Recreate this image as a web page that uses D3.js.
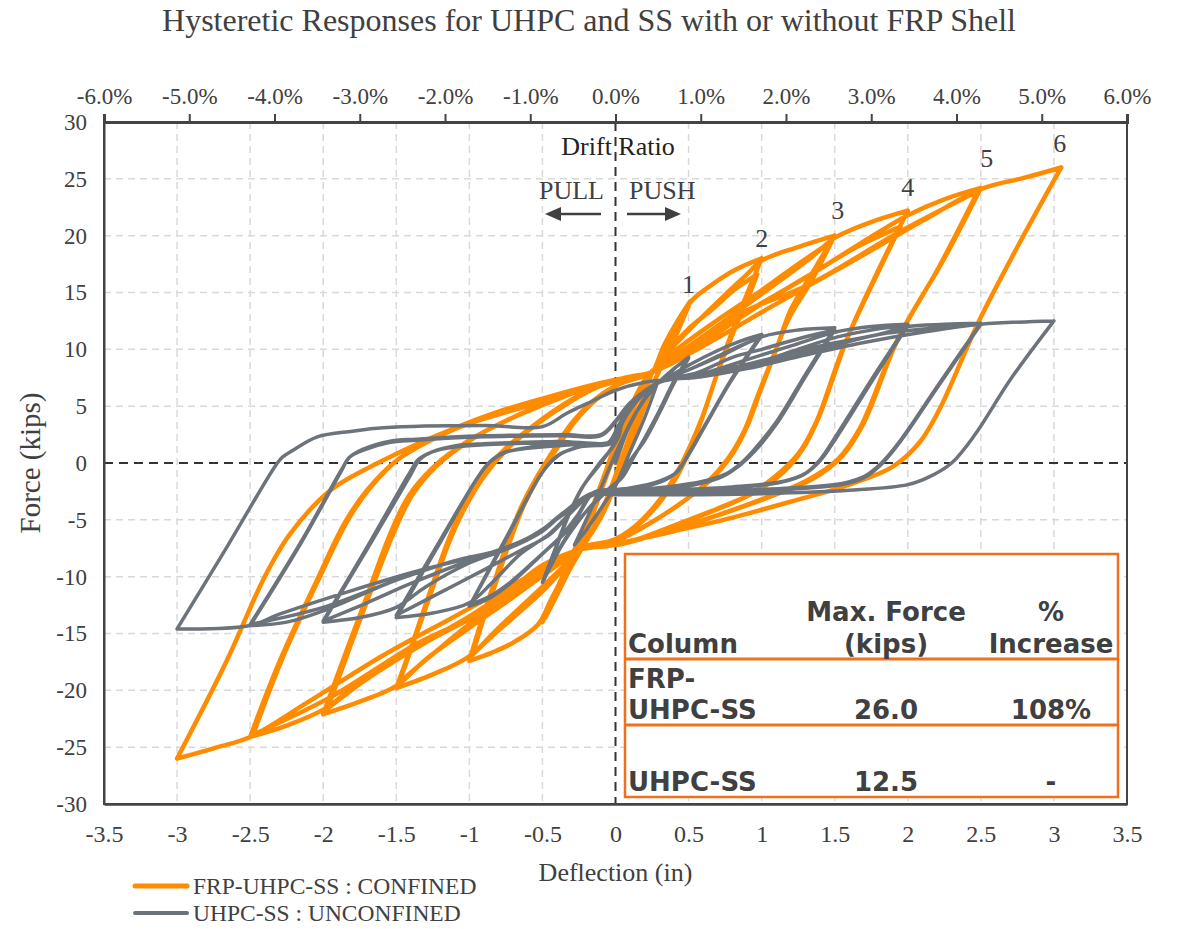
<!DOCTYPE html>
<html><head><meta charset="utf-8">
<script src="https://cdn.jsdelivr.net/npm/d3@7"></script>
<style>body{margin:0;background:#fff}</style>
</head><body>
<svg id="chart" width="1178" height="929"></svg>
<script>
// ---------------- DATA ----------------
const title = "Hysteretic Responses for UHPC and SS with or without FRP Shell";
const xTicks = [-3.5,-3,-2.5,-2,-1.5,-1,-0.5,0,0.5,1,1.5,2,2.5,3,3.5];
const yTicks = [-30,-25,-20,-15,-10,-5,0,5,10,15,20,25,30];
const driftTicks = [-6,-5,-4,-3,-2,-1,0,1,2,3,4,5,6];
const peakLabels = ["1","2","3","4","5","6"];
const peakLabelPos = [[0.5,15.0],[1.0,19.0],[1.52,21.5],[2.0,23.5],[2.54,26.0],[3.04,27.4]];
const tableHeader = [["Column"],["Max. Force","(kips)"],["%","Increase"]];
const tableRows = [[["FRP-","UHPC-SS"],"26.0","108%"],[["UHPC-SS"],"12.5","-"]];
const legendLabels = ["FRP-UHPC-SS : CONFINED","UHPC-SS : UNCONFINED"];

// FRP-UHPC-SS : CONFINED (deflection in, force kips)
const confSmall = [[0,0],[0.08,3.2],[0.17,6.2],[0.25,8.1],
 [0.19,5.6],[0.1,2.3],[0.0,-1.3],[-0.1,-4.3],[-0.19,-6.6],[-0.25,-7.9],
 [-0.19,-5.7],[-0.1,-2.4],[0.0,1.1],[0.1,4.3],[0.18,6.6],[0.25,8.0],
 [0.19,5.8],[0.1,2.5],[0.0,-1.1],[-0.1,-4.4],[-0.19,-6.7],[-0.25,-7.8],
 [-0.18,-5.4],[-0.08,-1.8],[0.02,1.7],[0.12,5.0],[0.2,7.1],[0.26,8.1]];
const conf05 = [[0.33,10.3],[0.42,12.4],[0.51,14.2],
 [0.44,12.2],[0.36,9.9],[0.28,7.6],[0.2,5.0],[0.1,1.6],[0.0,-1.9],[-0.1,-4.8],[-0.2,-6.9],[-0.3,-9.0],[-0.4,-11.4],[-0.5,-14.0],
 [-0.43,-11.9],[-0.35,-9.6],[-0.27,-7.3],[-0.18,-4.6],[-0.08,-1.2],[0.02,2.4],[0.12,5.4],[0.2,7.3],[0.27,8.3],
 [0.35,10.4],[0.43,12.4],[0.5,13.8],
 [0.43,11.7],[0.35,9.4],[0.27,7.3],[0.19,4.8],[0.09,1.4],[-0.01,-2.1],[-0.11,-5.0],[-0.21,-7.1],[-0.31,-9.3],[-0.4,-11.6],[-0.48,-13.6],
 [-0.42,-11.7],[-0.34,-9.3],[-0.26,-7.1],[-0.17,-4.3],[-0.07,-0.9],[0.03,2.7],[0.13,5.6],[0.21,7.5],[0.27,8.3]];
const conf10 = [[0.35,10.6],[0.45,13.0],[0.53,14.4],[0.66,15.7],[0.82,17.0],[1.0,18.0],
 [0.92,15.5],[0.83,12.6],[0.72,8.8],[0.6,4.2],[0.52,1.5],[0.42,-1.2],[0.3,-3.5],[0.15,-5.5],[0.0,-6.7],[-0.12,-7.2],[-0.24,-7.6],
 [-0.34,-9.6],[-0.44,-12.0],[-0.53,-14.2],[-0.7,-15.8],[-0.85,-16.7],[-1.0,-17.4],
 [-0.92,-14.0],[-0.83,-10.5],[-0.74,-7.0],[-0.65,-4.0],[-0.55,-1.5],[-0.42,1.2],[-0.3,3.5],[-0.15,5.5],[0.0,6.8],[0.12,7.4],[0.25,8.0],
 [0.32,9.3],[0.5,11.8],[0.66,13.5],[0.82,15.3],[0.97,16.6],
 [0.9,14.3],[0.81,11.6],[0.7,8.0],[0.59,3.9],[0.5,1.2],[0.4,-1.3],[0.28,-3.6],[0.13,-5.6],[-0.02,-6.8],[-0.24,-7.5],
 [-0.35,-9.2],[-0.5,-11.3],[-0.7,-13.6],[-0.85,-15.3],[-0.98,-16.9],
 [-0.9,-13.6],[-0.81,-10.2],[-0.72,-6.8],[-0.63,-3.8],[-0.53,-1.3],[-0.4,1.3],[-0.28,3.6],[-0.13,5.6],[0.02,6.9],[0.25,8.0]];
const conf15 = [[0.35,9.6],[0.55,12.3],[0.75,14.8],[0.9,16.6],[1.0,17.8],[1.25,19.0],[1.5,20.0],
 [1.35,16.8],[1.2,13.5],[1.1,10.0],[0.99,6.3],[0.9,3.2],[0.8,0.8],[0.65,-1.5],[0.45,-3.5],[0.25,-5.2],[0.05,-6.6],[-0.1,-7.2],[-0.24,-7.5],
 [-0.35,-9.0],[-0.55,-11.5],[-0.8,-14.5],[-1.0,-17.0],[-1.25,-18.6],[-1.5,-19.8],
 [-1.38,-15.5],[-1.26,-11.0],[-1.15,-7.0],[-1.05,-4.0],[-0.92,-1.2],[-0.75,1.3],[-0.55,3.4],[-0.35,5.2],[-0.15,6.6],[0.05,7.4],[0.25,8.0],
 [0.4,9.8],[0.7,12.6],[1.0,15.2],[1.25,17.5],[1.48,19.5],
 [1.34,16.0],[1.19,12.8],[1.08,9.4],[0.97,5.8],[0.88,2.8],[0.77,0.4],[0.62,-1.8],[0.42,-3.8],[0.22,-5.4],[0.03,-6.7],[-0.24,-7.5],
 [-0.4,-9.0],[-0.7,-11.5],[-1.0,-14.2],[-1.25,-16.8],[-1.48,-19.3],
 [-1.36,-15.0],[-1.24,-10.6],[-1.13,-6.7],[-1.02,-3.7],[-0.89,-1.0],[-0.72,1.5],[-0.52,3.6],[-0.32,5.3],[-0.12,6.7],[0.25,8.0]];
const conf20 = [[0.45,9.8],[0.8,13.0],[1.1,15.8],[1.35,18.2],[1.5,19.8],[1.75,21.2],[2.0,22.2],
 [1.8,17.0],[1.59,11.1],[1.39,4.0],[1.28,1.2],[1.15,-0.8],[0.95,-2.6],[0.7,-4.0],[0.4,-5.5],[0.15,-6.7],[-0.05,-7.3],[-0.24,-7.6],
 [-0.4,-9.0],[-0.7,-11.8],[-1.0,-14.5],[-1.3,-17.3],[-1.5,-19.6],[-1.75,-21.0],[-2.0,-22.1],
 [-1.84,-16.5],[-1.68,-11.0],[-1.55,-6.5],[-1.42,-3.0],[-1.25,-0.4],[-1.0,2.0],[-0.7,4.0],[-0.4,5.6],[-0.1,7.0],[0.1,7.6],[0.25,8.0],
 [0.5,10.0],[0.9,13.3],[1.3,16.3],[1.65,19.0],[1.95,20.8],
 [1.76,15.8],[1.56,10.2],[1.37,3.5],[1.25,0.8],[1.1,-1.1],[0.9,-2.9],[0.65,-4.3],[0.35,-5.8],[0.1,-6.9],[-0.24,-7.6],
 [-0.45,-9.0],[-0.9,-13.0],[-1.3,-15.8],[-1.7,-19.0],[-1.97,-21.6],
 [-1.82,-16.3],[-1.66,-10.8],[-1.52,-6.2],[-1.39,-2.8],[-1.22,-0.2],[-0.97,2.2],[-0.67,4.2],[-0.37,5.8],[-0.08,7.1],[0.25,8.0]];
const conf25 = [[0.5,9.8],[1.0,14.0],[1.45,17.5],[1.8,20.3],[2.0,21.8],[2.25,23.2],[2.5,24.2],
 [2.25,18.0],[1.94,11.1],[1.69,3.3],[1.55,0.6],[1.35,-1.4],[1.05,-3.0],[0.7,-4.6],[0.35,-6.0],[0.05,-7.1],[-0.24,-7.6],
 [-0.5,-9.3],[-1.0,-13.5],[-1.45,-16.8],[-1.8,-19.8],[-2.0,-21.7],[-2.25,-23.1],[-2.5,-24.1],
 [-2.3,-17.5],[-2.05,-10.5],[-1.85,-5.2],[-1.7,-2.4],[-1.5,0.2],[-1.2,2.4],[-0.8,4.4],[-0.4,5.9],[-0.1,7.0],[0.25,8.0],
 [0.55,10.0],[0.82,12.9],[1.34,15.8],[1.94,20.3],[2.48,23.9],
 [2.22,17.4],[1.92,10.6],[1.67,3.0],[1.52,0.3],[1.3,-1.6],[1.0,-3.2],[0.65,-4.8],[0.3,-6.2],[0.0,-7.2],[-0.24,-7.6],
 [-0.5,-9.0],[-0.9,-13.0],[-1.36,-15.9],[-1.95,-20.6],[-2.48,-23.9],
 [-2.28,-17.2],[-2.03,-10.2],[-1.83,-5.0],[-1.68,-2.2],[-1.48,0.4],[-1.18,2.6],[-0.78,4.6],[-0.38,6.1],[-0.08,7.1],[0.25,8.0]];
const conf30 = [[0.6,10.3],[1.1,14.0],[1.6,17.6],[2.1,21.3],[2.5,24.1],[2.8,25.1],[3.05,26.0],
 [2.75,19.0],[2.48,12.3],[2.22,4.8],[2.08,1.8],[1.9,-0.3],[1.6,-1.9],[1.2,-3.4],[0.8,-4.8],[0.4,-6.0],[0.05,-7.0],[-0.24,-7.6],
 [-0.6,-10.0],[-1.1,-13.5],[-1.6,-17.0],[-2.1,-21.0],[-2.5,-24.1],[-2.75,-25.1],[-3.0,-26.0],
 [-2.66,-17.4],[-2.4,-10.0],[-2.23,-6.3],[-1.95,-2.4],[-1.61,0.1],[-1.13,2.9],[-0.58,5.1],[-0.1,6.9],[0.25,7.9]];

// UHPC-SS : UNCONFINED
const unconfSmall = [[0,0],[0.1,3.4],[0.2,5.6],[0.28,6.8],
 [0.2,4.0],[0.1,1.0],[0.0,-2.0],[-0.1,-4.0],[-0.2,-5.9],[-0.28,-7.2],
 [-0.2,-5.0],[-0.1,-2.2],[0.0,0.8],[0.1,3.5],[0.2,5.7],[0.28,6.9]];
const unconf05 = [[0.4,8.3],[0.5,9.3],
 [0.4,7.2],[0.3,4.6],[0.2,2.2],[0.12,0.4],[0.05,-1.2],[-0.05,-2.4],[-0.15,-3.6],[-0.25,-5.0],[-0.35,-6.8],[-0.43,-8.7],[-0.5,-10.5],
 [-0.42,-7.8],[-0.33,-4.8],[-0.23,-2.2],[-0.12,-0.2],[0.0,1.8],[0.05,3.6],[0.13,5.2],[0.22,6.4],[0.33,7.4],[0.42,8.5],[0.5,9.2],
 [0.4,7.0],[0.3,4.4],[0.2,2.0],[0.1,0.2],[0.03,-1.4],[-0.07,-2.5],[-0.17,-3.8],[-0.27,-5.4],[-0.37,-7.3],[-0.44,-9.0],[-0.49,-10.3],
 [-0.41,-7.6],[-0.32,-4.6],[-0.22,-2.0],[-0.1,0.0],[0.0,1.9],[0.05,3.7],[0.13,5.3],[0.22,6.5],[0.33,7.3]];
const unconf10 = [[0.5,8.6],[0.7,9.9],[0.85,10.7],[1.0,11.3],
 [0.8,7.5],[0.62,3.5],[0.5,0.8],[0.42,-0.8],[0.3,-1.6],[0.1,-2.2],[-0.05,-2.4],[-0.15,-2.6],
 [-0.25,-4.5],[-0.35,-6.2],[-0.5,-8.0],[-0.7,-10.4],[-0.85,-11.8],[-1.0,-12.6],
 [-0.75,-6.6],[-0.52,-1.2],[-0.45,0.0],[-0.38,0.8],[-0.25,1.4],[-0.05,1.8],[0.02,3.3],[0.1,4.9],[0.22,6.4],[0.33,7.3],
 [0.5,8.2],[0.7,9.4],[0.85,10.3],[0.99,11.0],
 [0.79,7.2],[0.61,3.2],[0.49,0.5],[0.4,-1.0],[0.28,-1.8],[0.08,-2.3],[-0.15,-2.6],
 [-0.26,-4.6],[-0.37,-6.4],[-0.52,-8.2],[-0.72,-10.5],[-0.87,-11.8],[-0.99,-12.4],
 [-0.74,-6.5],[-0.51,-1.0],[-0.44,0.1],[-0.36,0.9],[-0.22,1.5],[-0.03,1.8],[0.03,3.5],[0.11,5.0],[0.23,6.5],[0.33,7.3]];
const unconf15 = [[0.5,8.2],[0.75,9.6],[1.0,11.1],[1.25,11.7],[1.5,11.9],
 [1.3,7.8],[1.1,3.6],[0.95,1.2],[0.86,0.0],[0.75,-1.0],[0.6,-1.6],[0.35,-2.1],[0.05,-2.4],[-0.15,-2.6],
 [-0.3,-4.3],[-0.45,-6.2],[-0.65,-8.0],[-0.85,-10.6],[-1.0,-12.3],[-1.25,-13.2],[-1.5,-13.6],
 [-1.2,-7.0],[-0.95,-1.4],[-0.86,0.1],[-0.77,0.9],[-0.6,1.3],[-0.3,1.6],[-0.02,1.8],[0.03,3.5],[0.1,4.9],[0.22,6.4],[0.33,7.3],
 [0.55,7.9],[0.8,9.3],[1.0,10.0],[1.27,11.0],[1.5,11.7],
 [1.3,7.6],[1.1,3.4],[0.95,1.0],[0.85,-0.2],[0.73,-1.2],[0.58,-1.8],[0.33,-2.3],[0.03,-2.5],[-0.15,-2.6],
 [-0.3,-4.3],[-0.45,-6.3],[-0.65,-7.7],[-0.9,-9.4],[-1.2,-11.4],[-1.5,-13.4],
 [-1.2,-6.8],[-0.94,-1.2],[-0.86,0.1],[-0.76,0.9],[-0.58,1.4],[-0.28,1.7],[-0.02,1.8],[0.03,3.5],[0.1,4.9],[0.22,6.4],[0.33,7.3]];
const unconf20 = [[0.6,7.9],[0.9,9.1],[1.2,10.3],[1.5,11.5],[1.75,12.0],[2.0,12.2],
 [1.75,7.3],[1.52,2.6],[1.4,0.3],[1.3,-0.9],[1.15,-1.6],[0.8,-2.1],[0.3,-2.4],[-0.15,-2.6],
 [-0.33,-4.1],[-0.5,-6.0],[-0.75,-7.6],[-1.0,-8.8],[-1.3,-10.9],[-1.5,-12.7],[-1.75,-13.6],[-2.0,-14.0],
 [-1.7,-7.6],[-1.4,-1.0],[-1.34,0.3],[-1.25,1.0],[-1.1,1.4],[-0.9,1.6],[-0.4,1.8],[0.0,1.9],[0.05,3.8],[0.15,5.6],[0.3,7.1],
 [0.6,7.6],[0.9,8.5],[1.2,9.8],[1.52,11.1],[1.8,11.8],[2.0,12.1],
 [1.75,7.1],[1.52,2.4],[1.4,0.2],[1.29,-1.0],[1.13,-1.7],[0.78,-2.2],[0.28,-2.5],[-0.15,-2.6],
 [-0.33,-4.1],[-0.5,-6.0],[-0.75,-7.6],[-1.0,-8.6],[-1.4,-10.6],[-1.7,-12.3],[-2.0,-13.9],
 [-1.7,-7.4],[-1.41,-0.9],[-1.35,0.3],[-1.25,1.0],[-1.1,1.5],[-0.9,1.7],[-0.4,1.9],[0.0,2.0],[0.05,3.9],[0.15,5.7],[0.3,7.1]];
const unconf25 = [[0.6,7.8],[1.0,9.0],[1.4,10.3],[1.8,11.3],[2.0,12.0],[2.25,12.2],[2.5,12.3],
 [2.2,6.7],[1.95,2.0],[1.82,0.0],[1.7,-1.2],[1.55,-1.8],[1.2,-2.2],[0.6,-2.5],[0.0,-2.7],[-0.15,-2.7],
 [-0.35,-4.3],[-0.55,-6.3],[-0.8,-7.7],[-1.1,-8.6],[-1.5,-10.3],[-2.0,-13.0],[-2.25,-14.0],[-2.5,-14.3],
 [-2.15,-7.0],[-1.88,-0.8],[-1.82,0.5],[-1.73,1.1],[-1.55,1.8],[-1.36,2.0],[-0.9,2.3],[-0.36,2.4],[-0.1,2.4],[0.0,3.6],[0.1,5.2],[0.3,7.1],
 [0.6,7.6],[1.0,8.7],[1.4,10.0],[1.8,11.3],[2.2,11.9],[2.5,12.2],
 [2.2,6.6],[1.95,1.9],[1.82,-0.1],[1.7,-1.3],[1.55,-1.9],[1.2,-2.3],[0.6,-2.6],[0.0,-2.7],[-0.15,-2.7],
 [-0.35,-4.3],[-0.55,-6.3],[-0.8,-7.7],[-1.1,-8.6],[-1.5,-10.3],[-2.0,-12.7],[-2.5,-14.2],
 [-2.15,-6.9],[-1.88,-0.7],[-1.82,0.5],[-1.73,1.2],[-1.55,1.9],[-1.36,2.1],[-0.9,2.4],[-0.36,2.5],[-0.1,2.5],[0.0,3.7],[0.1,5.3],[0.3,7.1]];
const unconf30 = [[0.6,7.6],[0.9,8.3],[1.3,9.5],[1.7,10.6],[2.1,11.5],[2.5,12.2],[3.0,12.5],
 [2.7,7.3],[2.46,2.5],[2.3,0.0],[2.15,-1.2],[2.0,-1.9],[1.6,-2.4],[1.0,-2.7],[0.4,-2.8],[0.0,-2.8],[-0.15,-2.8],
 [-0.35,-4.5],[-0.6,-6.6],[-0.88,-8.0],[-1.3,-9.3],[-1.8,-11.2],[-2.3,-13.3],[-2.5,-14.3],[-3.0,-14.6],
 [-2.65,-7.2],[-2.33,-0.3],[-2.28,0.5],[-2.21,1.1],[-2.04,2.3],[-1.8,2.8],[-1.59,3.1],[-0.9,3.3],[-0.5,3.2],[-0.33,4.4],[-0.15,5.5],[0.0,6.4],[0.2,7.1],[0.33,7.3]];

// ---------------- DRAW ----------------
const svg = d3.select("#chart");
const serif = "'Liberation Serif','Times New Roman',serif";
const txt = "#404040";
const L = 104, R = 1127, T = 122, B = 804;
const x = d3.scaleLinear().domain([-3.5, 3.5]).range([L, R]);
const y = d3.scaleLinear().domain([-30, 30]).range([B, T]);
const drift = d3.scaleLinear().domain([-6, 6]).range([L, R]);

svg.append("rect").attr("width",1178).attr("height",929).attr("fill","#fff");

// title
svg.append("text").attr("x", 589).attr("y", 31).attr("text-anchor","middle")
  .style("font-family", serif).style("font-size","32px").attr("fill", txt).text(title);

// grid
const grid = svg.append("g");
grid.selectAll(".vg").data(xTicks.filter(d => d !== 0 && Math.abs(d) < 3.5)).enter().append("line")
  .attr("x1", d => x(d)).attr("x2", d => x(d)).attr("y1", T).attr("y2", B)
  .attr("stroke","#d9d9d9").attr("stroke-width",1.5).attr("stroke-dasharray","7,5");
grid.selectAll(".hg").data(yTicks.filter(d => d !== 0 && Math.abs(d) < 30)).enter().append("line")
  .attr("x1", L).attr("x2", R).attr("y1", d => y(d)).attr("y2", d => y(d))
  .attr("stroke","#d9d9d9").attr("stroke-width",1.5).attr("stroke-dasharray","7,5");

// zero lines
svg.append("line").attr("x1", L).attr("x2", R).attr("y1", y(0)).attr("y2", y(0))
  .attr("stroke","#333").attr("stroke-width",2).attr("stroke-dasharray","9,6");
svg.append("line").attr("x1", x(0)).attr("x2", x(0)).attr("y1", T).attr("y2", B)
  .attr("stroke","#333").attr("stroke-width",2).attr("stroke-dasharray","9,6");

// curves: split the load history into branches at each reversal so peaks stay sharp
const lineGen = d3.line().x(d => x(d[0])).y(d => y(d[1])).curve(d3.curveCatmullRom.alpha(0.5));
function branches(pts) {
  const out = []; let cur = [pts[0]]; let dir = 0;
  for (let i = 1; i < pts.length; i++) {
    const s = Math.sign(pts[i][0] - pts[i-1][0]);
    if (dir !== 0 && s !== 0 && s !== dir) { out.push(cur); cur = [pts[i-1]]; }
    if (s !== 0) dir = s;
    cur.push(pts[i]);
  }
  out.push(cur);
  return out;
}
const pathOf = pts => branches(pts).map(b => lineGen(b)).join("");
const confined = [].concat(confSmall, conf05, conf10, conf15, conf20, conf25, conf30);
const unconfined = [].concat(unconfSmall, unconf05, unconf10, unconf15, unconf20, unconf25, unconf30);
const orange = "#ff8c00", gray = "#6d737b";
svg.append("path").attr("d", pathOf(confined)).attr("fill","none")
  .attr("stroke", orange).attr("stroke-width",4.5).attr("stroke-linejoin","round").attr("stroke-linecap","round");
svg.append("path").attr("d", pathOf(unconfined)).attr("fill","none")
  .attr("stroke", gray).attr("stroke-width",3.5).attr("stroke-linejoin","round").attr("stroke-linecap","round");

// frame
svg.append("rect").attr("x", L).attr("y", T).attr("width", R - L).attr("height", B - T)
  .attr("fill","none").attr("stroke","#444").attr("stroke-width",2);

// bottom axis
const gx = svg.append("g").attr("transform", `translate(0,${B})`)
  .call(d3.axisBottom(x).tickValues(xTicks).tickSize(0).tickPadding(21).tickFormat(d => String(d)));
gx.select(".domain").attr("stroke","#444").attr("stroke-width",2.5);
gx.selectAll("text").style("font-family", serif).style("font-size","24px").attr("fill", txt);

// left axis
const gy = svg.append("g").attr("transform", `translate(${L},0)`)
  .call(d3.axisLeft(y).tickValues(yTicks).tickSize(0).tickPadding(17).tickFormat(d => String(d)));
gy.select(".domain").attr("stroke","#444").attr("stroke-width",2);
gy.selectAll("text").style("font-family", serif).style("font-size","23px").attr("fill", txt);

// top axis (drift ratio)
const gt = svg.append("g").attr("transform", `translate(0,${T})`)
  .call(d3.axisTop(drift).tickValues(driftTicks).tickSize(8).tickPadding(10).tickFormat(d => d.toFixed(1) + "%"));
gt.select(".domain").attr("stroke","#444").attr("stroke-width",3);
gt.selectAll(".tick line").attr("stroke","#444").attr("stroke-width",2);
gt.selectAll("text").style("font-family", serif).style("font-size","23px").attr("fill", txt);

// axis titles
svg.append("text").attr("x", x(0)).attr("y", 881).attr("text-anchor","middle")
  .style("font-family", serif).style("font-size","26px").attr("fill", txt).text("Deflection (in)");
svg.append("text").attr("transform", `translate(40,${y(0)}) rotate(-90)`).attr("text-anchor","middle")
  .style("font-family", serif).style("font-size","29px").attr("fill", txt).text("Force (kips)");

// annotations
svg.append("text").attr("x", 618).attr("y", 155).attr("text-anchor","middle")
  .style("font-family", serif).style("font-size","26px").attr("fill","#222").text("Drift Ratio");
svg.append("text").attr("x", 604).attr("y", 199).attr("text-anchor","end")
  .style("font-family", serif).style("font-size","26px").attr("fill", txt).text("PULL");
svg.append("text").attr("x", 629).attr("y", 199).attr("text-anchor","start")
  .style("font-family", serif).style("font-size","26px").attr("fill", txt).text("PUSH");
svg.append("line").attr("x1", 601).attr("x2", 558).attr("y1", 214).attr("y2", 214).attr("stroke","#404040").attr("stroke-width",2.5);
svg.append("path").attr("d","M545,214 L561,207 L561,221 Z").attr("fill","#404040");
svg.append("line").attr("x1", 627).attr("x2", 668).attr("y1", 214).attr("y2", 214).attr("stroke","#404040").attr("stroke-width",2.5);
svg.append("path").attr("d","M681,214 L665,207 L665,221 Z").attr("fill","#404040");

svg.selectAll(".pk").data(peakLabels).enter().append("text")
  .attr("x", (d, i) => x(peakLabelPos[i][0])).attr("y", (d, i) => y(peakLabelPos[i][1]))
  .attr("text-anchor","middle").style("font-family", serif).style("font-size","26px")
  .attr("fill", txt).text(d => d);

// table
const tb = svg.append("g");
const tOr = "#f0701e";
const sans = "'DejaVu Sans',Verdana,sans-serif";
tb.append("rect").attr("x", 625).attr("y", 554).attr("width", 493).attr("height", 243)
  .attr("fill","#fff").attr("stroke", tOr).attr("stroke-width", 2.5);
[659, 725].forEach(v => tb.append("line").attr("x1", 625).attr("x2", 1118).attr("y1", v).attr("y2", v)
  .attr("stroke", tOr).attr("stroke-width", 3));
const colX = [628, 886, 1051];
const anchors = ["start","middle","middle"];
function tText(xp, yp, s, anchor) {
  tb.append("text").attr("x", xp).attr("y", yp).attr("text-anchor", anchor)
    .style("font-family", sans).style("font-weight","bold").style("font-size","26px")
    .attr("fill", txt).text(s);
}
tableHeader.forEach((lines, c) => {
  lines.forEach((s, k) => tText(colX[c], 653 - (lines.length - 1 - k) * 32, s, anchors[c]));
});
const rowBase = [719, 791];
tableRows.forEach((row, r) => {
  row[0].forEach((s, k) => tText(colX[0], rowBase[r] - (row[0].length - 1 - k) * 31, s, "start"));
  tText(colX[1], rowBase[r], row[1], "middle");
  tText(colX[2], rowBase[r], row[2], "middle");
});

// legend
const lg = svg.append("g");
[[orange, 5, 886], [gray, 4, 913]].forEach((s, i) => {
  lg.append("line").attr("x1", 135).attr("x2", 187).attr("y1", s[2]).attr("y2", s[2])
    .attr("stroke", s[0]).attr("stroke-width", s[1]).attr("stroke-linecap","round");
  lg.append("text").attr("x", 193).attr("y", s[2] + 8).style("font-family", serif)
    .style("font-size","23.5px").attr("fill", txt).text(legendLabels[i]);
});
</script>
</body></html>
